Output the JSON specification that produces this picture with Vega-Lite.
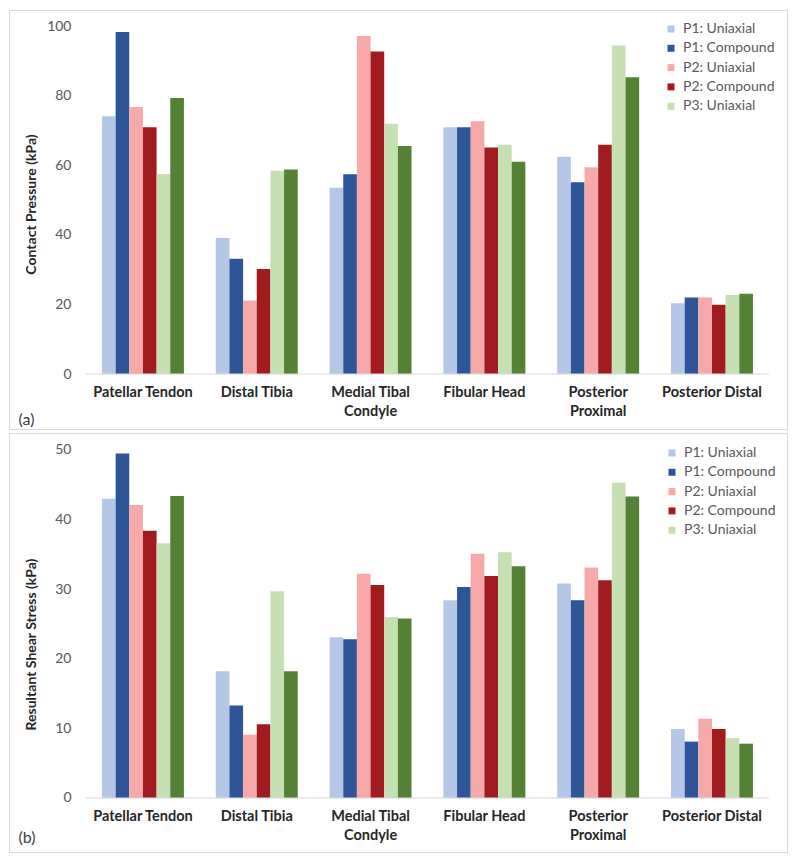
{
  "$schema": "https://vega.github.io/schema/vega-lite/v6.json",
  "background": "white",
  "padding": {"left": 8, "top": 9, "right": 10, "bottom": 10},
  "spacing": 2,
  "config": {
    "view": {"stroke": "#d9d9d9", "strokeWidth": 1},
    "font": "Lato",
    "bar": {"stroke": null}
  },
  "datasets": {
    "a": [
      {"site": "Patellar Tendon", "series": "P1: Uniaxial", "value": 74.1},
      {"site": "Patellar Tendon", "series": "P1: Compound", "value": 98.3},
      {"site": "Patellar Tendon", "series": "P2: Uniaxial", "value": 76.7},
      {"site": "Patellar Tendon", "series": "P2: Compound", "value": 70.9},
      {"site": "Patellar Tendon", "series": "P3: Uniaxial", "value": 57.5},
      {"site": "Patellar Tendon", "series": "P3: Compound", "value": 79.3},
      {"site": "Distal Tibia", "series": "P1: Uniaxial", "value": 39.1},
      {"site": "Distal Tibia", "series": "P1: Compound", "value": 33.1},
      {"site": "Distal Tibia", "series": "P2: Uniaxial", "value": 21.1},
      {"site": "Distal Tibia", "series": "P2: Compound", "value": 30.2},
      {"site": "Distal Tibia", "series": "P3: Uniaxial", "value": 58.4},
      {"site": "Distal Tibia", "series": "P3: Compound", "value": 58.8},
      {"site": "Medial Tibal Condyle", "series": "P1: Uniaxial", "value": 53.5},
      {"site": "Medial Tibal Condyle", "series": "P1: Compound", "value": 57.4},
      {"site": "Medial Tibal Condyle", "series": "P2: Uniaxial", "value": 97.1},
      {"site": "Medial Tibal Condyle", "series": "P2: Compound", "value": 92.7},
      {"site": "Medial Tibal Condyle", "series": "P3: Uniaxial", "value": 71.9},
      {"site": "Medial Tibal Condyle", "series": "P3: Compound", "value": 65.5},
      {"site": "Fibular Head", "series": "P1: Uniaxial", "value": 70.9},
      {"site": "Fibular Head", "series": "P1: Compound", "value": 70.9},
      {"site": "Fibular Head", "series": "P2: Uniaxial", "value": 72.6},
      {"site": "Fibular Head", "series": "P2: Compound", "value": 65.1},
      {"site": "Fibular Head", "series": "P3: Uniaxial", "value": 65.9},
      {"site": "Fibular Head", "series": "P3: Compound", "value": 61.0},
      {"site": "Posterior Proximal", "series": "P1: Uniaxial", "value": 62.4},
      {"site": "Posterior Proximal", "series": "P1: Compound", "value": 55.1},
      {"site": "Posterior Proximal", "series": "P2: Uniaxial", "value": 59.4},
      {"site": "Posterior Proximal", "series": "P2: Compound", "value": 65.9},
      {"site": "Posterior Proximal", "series": "P3: Uniaxial", "value": 94.4},
      {"site": "Posterior Proximal", "series": "P3: Compound", "value": 85.3},
      {"site": "Posterior Distal", "series": "P1: Uniaxial", "value": 20.3},
      {"site": "Posterior Distal", "series": "P1: Compound", "value": 22.0},
      {"site": "Posterior Distal", "series": "P2: Uniaxial", "value": 22.0},
      {"site": "Posterior Distal", "series": "P2: Compound", "value": 19.9},
      {"site": "Posterior Distal", "series": "P3: Uniaxial", "value": 22.7},
      {"site": "Posterior Distal", "series": "P3: Compound", "value": 23.1}
    ],
    "b": [
      {"site": "Patellar Tendon", "series": "P1: Uniaxial", "value": 43.0},
      {"site": "Patellar Tendon", "series": "P1: Compound", "value": 49.5},
      {"site": "Patellar Tendon", "series": "P2: Uniaxial", "value": 42.1},
      {"site": "Patellar Tendon", "series": "P2: Compound", "value": 38.4},
      {"site": "Patellar Tendon", "series": "P3: Uniaxial", "value": 36.6},
      {"site": "Patellar Tendon", "series": "P3: Compound", "value": 43.4},
      {"site": "Distal Tibia", "series": "P1: Uniaxial", "value": 18.2},
      {"site": "Distal Tibia", "series": "P1: Compound", "value": 13.3},
      {"site": "Distal Tibia", "series": "P2: Uniaxial", "value": 9.1},
      {"site": "Distal Tibia", "series": "P2: Compound", "value": 10.6},
      {"site": "Distal Tibia", "series": "P3: Uniaxial", "value": 29.7},
      {"site": "Distal Tibia", "series": "P3: Compound", "value": 18.2},
      {"site": "Medial Tibal Condyle", "series": "P1: Uniaxial", "value": 23.1},
      {"site": "Medial Tibal Condyle", "series": "P1: Compound", "value": 22.8},
      {"site": "Medial Tibal Condyle", "series": "P2: Uniaxial", "value": 32.2},
      {"site": "Medial Tibal Condyle", "series": "P2: Compound", "value": 30.6},
      {"site": "Medial Tibal Condyle", "series": "P3: Uniaxial", "value": 26.0},
      {"site": "Medial Tibal Condyle", "series": "P3: Compound", "value": 25.8},
      {"site": "Fibular Head", "series": "P1: Uniaxial", "value": 28.4},
      {"site": "Fibular Head", "series": "P1: Compound", "value": 30.3},
      {"site": "Fibular Head", "series": "P2: Uniaxial", "value": 35.1},
      {"site": "Fibular Head", "series": "P2: Compound", "value": 31.9},
      {"site": "Fibular Head", "series": "P3: Uniaxial", "value": 35.3},
      {"site": "Fibular Head", "series": "P3: Compound", "value": 33.3},
      {"site": "Posterior Proximal", "series": "P1: Uniaxial", "value": 30.8},
      {"site": "Posterior Proximal", "series": "P1: Compound", "value": 28.4},
      {"site": "Posterior Proximal", "series": "P2: Uniaxial", "value": 33.1},
      {"site": "Posterior Proximal", "series": "P2: Compound", "value": 31.3},
      {"site": "Posterior Proximal", "series": "P3: Uniaxial", "value": 45.3},
      {"site": "Posterior Proximal", "series": "P3: Compound", "value": 43.3},
      {"site": "Posterior Distal", "series": "P1: Uniaxial", "value": 9.9},
      {"site": "Posterior Distal", "series": "P1: Compound", "value": 8.1},
      {"site": "Posterior Distal", "series": "P2: Uniaxial", "value": 11.4},
      {"site": "Posterior Distal", "series": "P2: Compound", "value": 9.9},
      {"site": "Posterior Distal", "series": "P3: Uniaxial", "value": 8.6},
      {"site": "Posterior Distal", "series": "P3: Compound", "value": 7.8}
    ]
  },
  "resolve": {
    "scale": {"x": "independent", "y": "independent", "color": "independent", "xOffset": "independent"},
    "legend": {"color": "independent"}
  },
  "vconcat": [
    {
      "width": 778,
      "height": 419,
      "layer": [
        {
          "data": {"name": "a"},
          "mark": {"type": "bar"},
          "encoding": {
            "x": {
              "field": "site", "type": "nominal",
              "sort": ["Patellar Tendon", "Distal Tibia", "Medial Tibal Condyle", "Fibular Head", "Posterior Proximal", "Posterior Distal"],
              "scale": {"paddingInner": 0.28, "paddingOuter": 0.558, "align": 0.732},
              "axis": {
                "orient": "bottom", "offset": -55, "domain": false, "ticks": false, "tickSize": 0,
                "labelAngle": 0, "labelFontWeight": "bold", "labelFontSize": 14.5, "labelColor": "#262626",
                "labelPadding": 18, "labelLineHeight": 19, "labelBaseline": "middle",
                "labelExpr": "datum.value == 'Medial Tibal Condyle' ? ['Medial Tibal', 'Condyle'] : datum.value == 'Posterior Proximal' ? ['Posterior', 'Proximal'] : datum.label",
                "title": "(a)", "titleX": 9, "titleY": 45, "titleAlign": "left", "titleBaseline": "middle",
                "titleFontWeight": "normal", "titleFontSize": 16, "titleColor": "#404040"
              }
            },
            "xOffset": {
              "field": "series", "type": "nominal",
              "scale": {"domain": ["P1: Uniaxial", "P1: Compound", "P2: Uniaxial", "P2: Compound", "P3: Uniaxial", "P3: Compound"], "paddingInner": 0, "paddingOuter": 0}
            },
            "y": {
              "field": "value", "type": "quantitative",
              "scale": {"domain": [-15.8, 104.6], "nice": false, "zero": false},
              "axis": {
                "values": [0, 20, 40, 60, 80, 100], "offset": -62, "domain": false, "ticks": false, "tickSize": 0,
                "grid": false, "labelPadding": 0, "labelFontSize": 14, "labelColor": "#595959",
                "title": "Contact Pressure (kPa)", "titleX": -40, "titleY": 194, "titleAngle": -90,
                "titleBaseline": "middle", "titleAlign": "center", "titleFontWeight": "bold", "titleFontSize": 14, "titleColor": "#262626"
              }
            },
            "y2": {"datum": 0},
            "color": {
              "field": "series", "type": "nominal",
              "scale": {
                "domain": ["P1: Uniaxial", "P1: Compound", "P2: Uniaxial", "P2: Compound", "P3: Uniaxial", "P3: Compound"],
                "range": ["#b4c7e7", "#2e5597", "#f7a9a9", "#a01c1e", "#c6e0b4", "#548235"]
              },
              "legend": {
                "orient": "none", "legendX": 655, "legendY": 12, "title": null,
                "values": ["P1: Uniaxial", "P1: Compound", "P2: Uniaxial", "P2: Compound", "P3: Uniaxial"],
                "symbolType": "square", "symbolSize": 49, "symbolStrokeWidth": 0,
                "labelFontSize": 14, "labelColor": "#595959", "labelOffset": 5, "rowPadding": 5.3, "padding": 0
              }
            }
          }
        },
        {
          "data": {"values": [{}]},
          "mark": {"type": "rule", "color": "#d9d9d9", "strokeWidth": 1},
          "encoding": {
            "x": {"datum": "Patellar Tendon", "bandPosition": -0.195},
            "x2": {"datum": "Posterior Distal", "bandPosition": 1.195},
            "y": {"datum": 0}
          }
        }
      ]
    },
    {
      "width": 778,
      "height": 419,
      "layer": [
        {
          "data": {"name": "b"},
          "mark": {"type": "bar"},
          "encoding": {
            "x": {
              "field": "site", "type": "nominal",
              "sort": ["Patellar Tendon", "Distal Tibia", "Medial Tibal Condyle", "Fibular Head", "Posterior Proximal", "Posterior Distal"],
              "scale": {"paddingInner": 0.28, "paddingOuter": 0.558, "align": 0.732},
              "axis": {
                "orient": "bottom", "offset": -54, "domain": false, "ticks": false, "tickSize": 0,
                "labelAngle": 0, "labelFontWeight": "bold", "labelFontSize": 14.5, "labelColor": "#262626",
                "labelPadding": 18, "labelLineHeight": 19, "labelBaseline": "middle",
                "labelExpr": "datum.value == 'Medial Tibal Condyle' ? ['Medial Tibal', 'Condyle'] : datum.value == 'Posterior Proximal' ? ['Posterior', 'Proximal'] : datum.label",
                "title": "(b)", "titleX": 9, "titleY": 39, "titleAlign": "left", "titleBaseline": "middle",
                "titleFontWeight": "normal", "titleFontSize": 16, "titleColor": "#404040"
              }
            },
            "xOffset": {
              "field": "series", "type": "nominal",
              "scale": {"domain": ["P1: Uniaxial", "P1: Compound", "P2: Uniaxial", "P2: Compound", "P3: Uniaxial", "P3: Compound"], "paddingInner": 0, "paddingOuter": 0}
            },
            "y": {
              "field": "value", "type": "quantitative",
              "scale": {"domain": [-7.76, 52.44], "nice": false, "zero": false},
              "axis": {
                "values": [0, 10, 20, 30, 40, 50], "offset": -62, "domain": false, "ticks": false, "tickSize": 0,
                "grid": false, "labelPadding": 0, "labelFontSize": 14, "labelColor": "#595959",
                "title": "Resultant Shear Stress (kPa)", "titleX": -40, "titleY": 211, "titleAngle": -90,
                "titleBaseline": "middle", "titleAlign": "center", "titleFontWeight": "bold", "titleFontSize": 14, "titleColor": "#262626"
              }
            },
            "y2": {"datum": 0},
            "color": {
              "field": "series", "type": "nominal",
              "scale": {
                "domain": ["P1: Uniaxial", "P1: Compound", "P2: Uniaxial", "P2: Compound", "P3: Uniaxial", "P3: Compound"],
                "range": ["#b4c7e7", "#2e5597", "#f7a9a9", "#a01c1e", "#c6e0b4", "#548235"]
              },
              "legend": {
                "orient": "none", "legendX": 656, "legendY": 13, "title": null,
                "values": ["P1: Uniaxial", "P1: Compound", "P2: Uniaxial", "P2: Compound", "P3: Uniaxial"],
                "symbolType": "square", "symbolSize": 49, "symbolStrokeWidth": 0,
                "labelFontSize": 14, "labelColor": "#595959", "labelOffset": 5, "rowPadding": 5.3, "padding": 0
              }
            }
          }
        },
        {
          "data": {"values": [{}]},
          "mark": {"type": "rule", "color": "#d9d9d9", "strokeWidth": 1},
          "encoding": {
            "x": {"datum": "Patellar Tendon", "bandPosition": -0.195},
            "x2": {"datum": "Posterior Distal", "bandPosition": 1.195},
            "y": {"datum": 0}
          }
        }
      ]
    }
  ]
}
